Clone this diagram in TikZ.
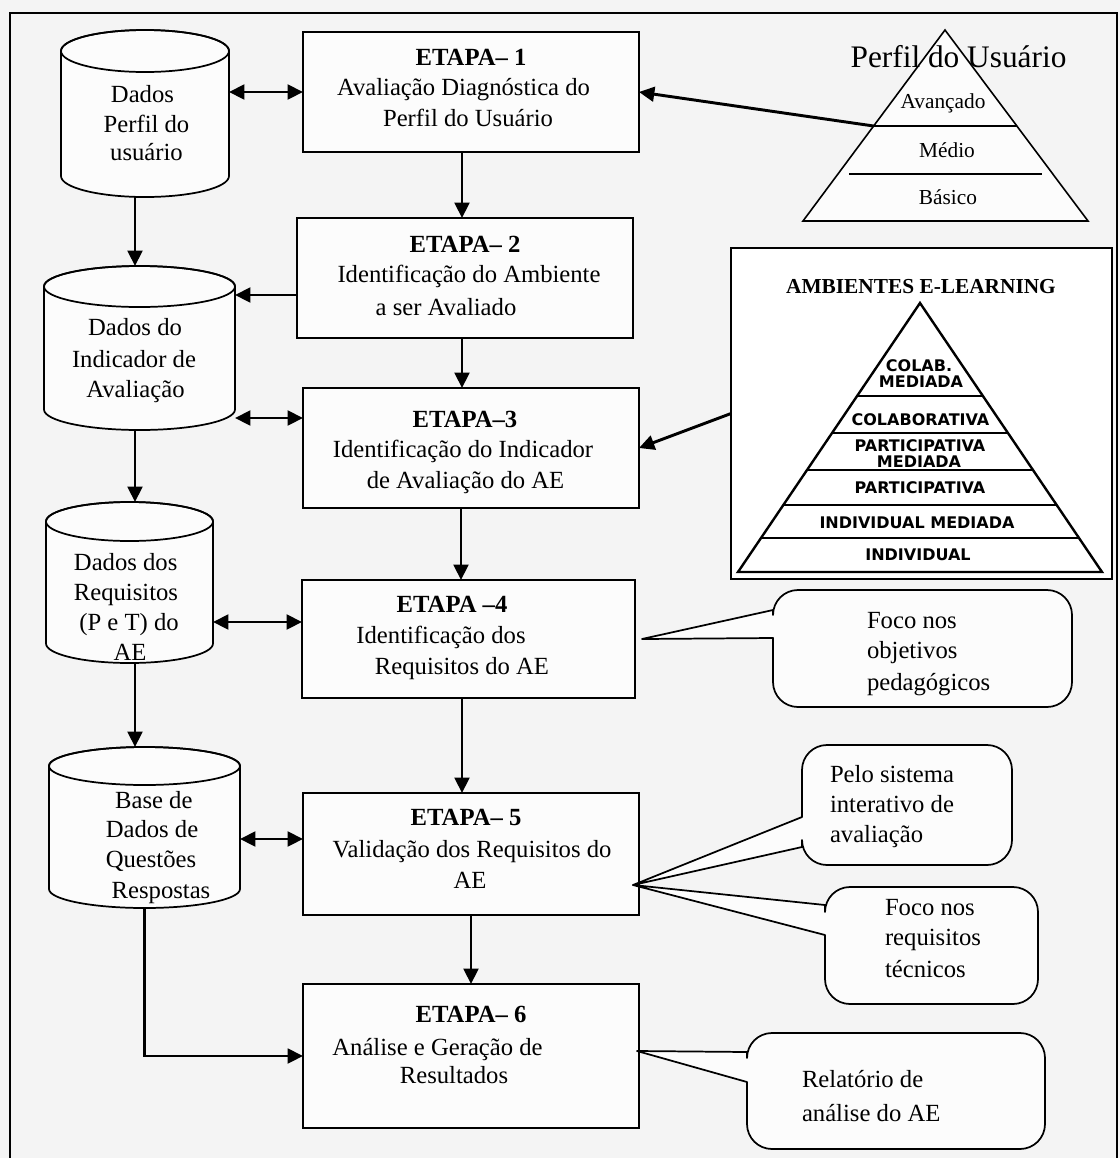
\documentclass[tikz,border=0pt]{standalone}
\usepackage{fontspec}
\setmainfont{Liberation Serif}
\newfontfamily\tierfont{DejaVu Sans}
\usetikzlibrary{arrows.meta}

\definecolor{pagegray}{HTML}{F4F4F4}
\definecolor{paper}{HTML}{FCFCFC}

\tikzset{
  stage/.style={draw, line width=1.2pt, fill=paper, inner sep=0pt, outer sep=0pt},
  hold/.style={inner sep=0pt, outer sep=0pt},
  ln/.style={inner sep=0pt, outer sep=0pt, font=\fontsize{18.5}{22}\selectfont,
             text height=13pt, text depth=4pt},
  hd/.style={ln, font=\fontsize{18.5}{22}\selectfont\bfseries},
  cl/.style={ln, anchor=west},
  tip/.style={Triangle[length=11.5pt,width=11pt]},
  arr/.style={line width=2.2pt, -{Triangle[length=11.5pt,width=11pt]}},
  dbl/.style={line width=2.2pt, {Triangle[length=11.5pt,width=11pt]}-{Triangle[length=11.5pt,width=11pt]}},
  cyl/.style={draw, line width=1.3pt, fill=paper},
  bubble/.style={draw, line width=1.3pt, fill=paper, line join=round},
  tri/.style={draw, line width=1.2pt, fill=paper},
  tier/.style={inner sep=0pt, font=\tierfont\fontsize{12}{13}\selectfont\bfseries},
  small/.style={inner sep=0pt, anchor=base, font=\fontsize{16}{18}\selectfont},
}

% database cylinder: centre x, top-ellipse y, bottom-ellipse y, x radius, y radius (px)
\newcommand\dbcyl[5]{%
  \filldraw[cyl] ({#1-#4},#2) -- ({#1-#4},#3)
    arc[start angle=180, end angle=360, x radius=#4*0.75pt, y radius=#5*0.75pt]
    -- ({#1+#4},#2)
    arc[start angle=0, end angle=180, x radius=#4*0.75pt, y radius=#5*0.75pt] -- cycle;
  \draw[cyl, fill=none] (#1,#2) ellipse[x radius=#4*0.75pt, y radius=#5*0.75pt];}

% speech bubble: left, top, right, bottom, wedge y1, wedge y2, tip coordinate
\newcommand\bubble[7]{%
  \filldraw[bubble] (#7) -- (#1,#5) -- (#1,{#2+25})
    arc[start angle=180, end angle=90, radius=18.75pt] -- ({#3-25},#2)
    arc[start angle=90, end angle=0, radius=18.75pt] -- (#3,{#4-25})
    arc[start angle=0, end angle=-90, radius=18.75pt] -- ({#1+25},#4)
    arc[start angle=-90, end angle=-180, radius=18.75pt] -- (#1,#6) -- cycle;}

\begin{document}
\begin{tikzpicture}[x=0.75pt, y=-0.75pt]
\useasboundingbox (0,0) rectangle (1120,1158);
\clip (0,0) rectangle (1120,1158);
\fill[pagegray] (0,0) rectangle (1120,1158);
\draw[line width=1.3pt] (10,1170) -- (10,13) -- (1117,13) -- (1117,1170);

% ---------- databases ----------
\dbcyl{145}{51}{176}{84}{21}
\node[hold, minimum width=126pt, minimum height=125.25pt] (c1) at (145,113.5) {};
\dbcyl{139.5}{286.5}{409.5}{95.5}{20.5}
\node[hold, minimum width=143.25pt, minimum height=123pt] (c2) at (139.5,348) {};
\dbcyl{129.5}{521.5}{643.5}{83.5}{19.5}
\node[hold, minimum width=125.25pt, minimum height=120.75pt] (c3) at (129.5,582.5) {};
\dbcyl{144.5}{766}{889}{95.5}{19}
\node[hold, minimum width=143.25pt, minimum height=120.75pt] (c4) at (144.5,827.5) {};

\node[ln] (c1a) at (142.5,96) {Dados};
\node[ln] (c1b) at (146.5,126) {Perfil do};
\node[ln] (c1c) at (146.5,154) {usuário};

\node[ln] (c2a) at (135,329) {Dados do};
\node[ln] (c2b) at (134,361) {Indicador de};
\node[ln] (c2c) at (135.5,391) {Avaliação};

\node[ln] (c3a) at (125.7,564) {Dados dos};
\node[ln] (c3b) at (126,594) {Requisitos};
\node[ln] (c3c) at (129,624) {(P e T) do};
\node[ln] (c3d) at (130,654) {AE};

\node[ln] (c4a) at (153.8,802) {Base de};
\node[ln] (c4b) at (152,831) {Dados de};
\node[ln] (c4c) at (151,861) {Questões};
\node[ln] (c4d) at (161,892) {Respostas};

% ---------- stages ----------
\node[stage, minimum width=252pt, minimum height=90pt] (b1) at (471,92) {};
\node[stage, minimum width=252pt, minimum height=90pt] (b2) at (465,278) {};
\node[stage, minimum width=252pt, minimum height=90pt] (b3) at (471,448) {};
\node[stage, minimum width=249.75pt, minimum height=88.5pt] (b4) at (468.5,639) {};
\node[stage, minimum width=252pt, minimum height=91.5pt] (b5) at (471,854) {};
\node[stage, minimum width=252pt, minimum height=108pt] (b6) at (471,1056) {};

\node[hd] (b1a) at (471,59) {ETAPA– 1};
\node[ln] (b1b) at (463.5,89) {Avaliação Diagnóstica do};
\node[ln] (b1c) at (468,120) {Perfil do Usuário};

\node[hd] (b2a) at (465,246) {ETAPA– 2};
\node[ln] (b2b) at (469,276) {Identificação do Ambiente};
\node[ln] (b2c) at (446,309) {a ser Avaliado};

\node[hd] (b3a) at (465,421) {ETAPA–3};
\node[ln] (b3b) at (463,451) {Identificação do Indicador};
\node[ln] (b3c) at (465.5,482) {de Avaliação do AE};

\node[hd] (b4a) at (452,606) {ETAPA –4};
\node[ln] (b4b) at (441,637) {Identificação dos};
\node[ln] (b4c) at (462,668) {Requisitos do AE};

\node[hd] (b5a) at (466,819) {ETAPA– 5};
\node[ln] (b5b) at (472,851) {Validação dos Requisitos do};
\node[ln] (b5c) at (470,882) {AE};

\node[hd] (b6a) at (471,1016) {ETAPA– 6};
\node[ln] (b6b) at (437.5,1049) {Análise e Geração de};
\node[ln] (b6c) at (454,1077) {Resultados};

% ---------- flow between stages ----------
\draw[arr] ([xshift=-6.75pt]b1.south) -- ([xshift=-2.25pt]b2.north);
\draw[arr] ([xshift=-2.25pt]b2.south) -- ([xshift=-6.75pt]b3.north);
\draw[arr] ([xshift=-7.5pt]b3.south) -- ([xshift=-5.625pt]b4.north);
\draw[arr] ([xshift=-4.875pt]b4.south) -- ([xshift=-6.75pt]b5.north);
\draw[arr] (b5.south) -- (b6.north);

% ---------- flow between databases ----------
\draw[arr] ([xshift=-7.5pt]c1.south) -- ([xshift=-3.375pt]c2.north);
\draw[arr] ([xshift=-3.375pt]c2.south) -- ([xshift=4.125pt]c3.north);
\draw[arr] ([xshift=4.125pt]c3.south) -- ([xshift=-7.125pt]c4.north);
\draw[arr] (c4.south) |- (b6.west);

% ---------- databases and stages ----------
\draw[dbl] (b1.west -| c1.east) -- (b1.west);
\coordinate (b2o) at ([yshift=-12.75pt]b2.west);
\draw[arr] (b2o) -- (b2o -| c2.east);
\coordinate (b3i) at ([yshift=22.5pt]b3.west);
\draw[dbl] (b3i -| c2.east) -- (b3i);
\coordinate (b4i) at ([yshift=12.75pt]b4.west);
\draw[dbl] (b4i -| c3.east) -- (b4i);
\coordinate (b5i) at ([yshift=11.25pt]b5.west);
\draw[dbl] (b5i -| c4.east) -- (b5i);

% ---------- notes ----------
\coordinate (t4) at ([xshift=5.25pt]b4.east);
\coordinate (t5) at ([xshift=-4.5pt, yshift=-23.25pt]b5.east);
\coordinate (t6) at ([xshift=-1.5pt, yshift=3.75pt]b6.east);
\bubble{773}{590}{1072}{707}{610}{638}{t4}
\bubble{802}{745}{1012}{865}{817}{847}{t5}
\bubble{825}{887}{1038}{1004}{905}{935}{t5}
\bubble{747}{1033}{1045}{1149}{1052}{1082}{t6}

\node[cl] (n1a) at (867,622) {Foco nos};
\node[cl] (n1b) at (867,652) {objetivos};
\node[cl] (n1c) at (867,684) {pedagógicos};

\node[cl] (n2a) at (830,776) {Pelo sistema};
\node[cl] (n2b) at (830,806) {interativo de};
\node[cl] (n2c) at (830,836) {avaliação};

\node[cl] (n3a) at (885,909) {Foco nos};
\node[cl] (n3b) at (885,939) {requisitos};
\node[cl] (n3c) at (885,971) {técnicos};

\node[cl] (n4a) at (802,1081) {Relatório de};
\node[cl] (n4b) at (802,1115) {análise do AE};

% ---------- user profile pyramid ----------
\filldraw[tri] (945,30) -- (1088,221) -- (803,221) -- cycle;
\coordinate (pu1) at (873.6,126);
\draw[line width=1.2pt] (pu1) -- (1016.9,126);
\draw[line width=1.2pt] (849,174) -- (1042,174);
\node[inner sep=0pt, anchor=base, font=\fontsize{23.5}{26}\selectfont] (put) at (958.5,67) {Perfil do Usuário};
\node[small] (pua) at (943,108) {Avançado};
\node[small] (pum) at (947,157) {Médio};
\node[small] (pub) at (948,204) {Básico};
\draw[arr] (pu1) -- (b1.east);

% ---------- e-learning environments ----------
\node[draw, line width=1.4pt, fill=white, inner sep=0pt, outer sep=0pt,
      minimum width=285.75pt, minimum height=248.25pt] (el) at (921.5,413.5) {};
\node[inner sep=0pt, font=\fontsize{16}{18}\selectfont\bfseries] (elt) at (921,287) {AMBIENTES E-LEARNING};
\draw[line width=1.8pt] (920,303) -- (1102,572) -- (738,572) -- cycle;
\draw[line width=1.6pt] (857.1,396) -- (982.9,396);
\draw[line width=1.6pt] (832.0,433) -- (1008.0,433);
\draw[line width=1.6pt] (807.0,470) -- (1033.0,470);
\draw[line width=1.6pt] (783.3,505) -- (1056.7,505);
\draw[line width=1.6pt] (761.0,538) -- (1079.0,538);
\node[tier] (e6a) at (919,366) {COLAB.};
\node[tier] (e6b) at (921,382) {MEDIADA};
\node[tier] (e5) at (920.5,420) {COLABORATIVA};
\node[tier] (e4a) at (920,446) {PARTICIPATIVA};
\node[tier] (e4b) at (919,461.5) {MEDIADA};
\node[tier] (e3) at (920,488) {PARTICIPATIVA};
\node[tier] (e2) at (917,523) {INDIVIDUAL MEDIADA};
\node[tier] (e1) at (918,555) {INDIVIDUAL};
\draw[arr] (el.west) -- (b3.east);
\end{tikzpicture}
\end{document}
